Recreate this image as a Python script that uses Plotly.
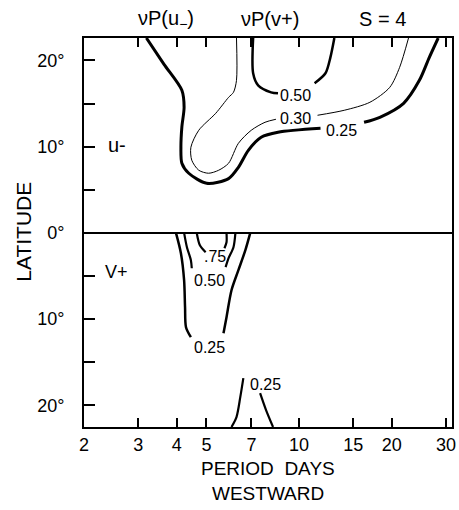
import math
import plotly.graph_objects as go

# ---- axis ticks ----
period_ticks = [2, 3, 4, 5, 7, 10, 15, 20, 30]
lat_ticks = [-20, -10, 0, 10, 20]
lat_ticktext = ["20°", "10°", "0°", "10°", "20°"]
lat_minor_ticks = [-15, -5, 5, 15]

# ---- top panel (u-) contours: period (days), latitude (deg, positive) ----
u025_period = [3.19, 3.64, 4.16, 4.23, 4.16, 4.13, 4.16, 4.38, 5.01, 5.90, 6.35, 6.84, 7.53, 8.54, 11.74,
               None, 16.26, 18.30, 21.86, 24.60, 26.50, 28.32]
u025_lat = [22.6, 19.55, 16.54, 14.57, 12.3, 9.93, 8.08, 6.92, 5.76, 6.3, 7.61, 9.58, 11.09, 11.67, 12.13,
            None, 12.83, 13.41, 15.03, 17.69, 20.36, 22.6]

u030_period = [6.26, 6.26, 6.12, 5.90, 5.36, 4.72, 4.45, 4.48, 4.72, 5.08, 5.48, 5.90, 6.35, 6.99, 7.75, 8.41,
               None, 11.48, 14.02, 16.99, 19.71, 21.22, 22.68]
u030_lat = [22.6, 17.69, 16.3, 15.72, 13.87, 11.9, 9.93, 8.43, 7.27, 6.92, 7.27, 8.08, 10.39, 11.9, 12.83, 13.18,
            None, 13.64, 14.22, 15.15, 16.88, 19.2, 22.6]

u050_period = [7.09, 7.09, 7.36, 8.11, 8.54, None, 11.23, 12.18, 12.64, 13.02]
u050_lat = [22.6, 18.51, 17.11, 16.3, 16.18, None, 17.35, 18.51, 20.36, 22.6]

# ---- bottom panel (v+) contours: latitude shown downward (negative values) ----
v075_period = [4.65, 4.76, 4.97, None, 5.81, 5.81, 5.72]
v075_lat = [0, -1.43, -2.24, None, 0, -1.08, -1.77]

v050_period = [4.23, 4.32, 4.45, 4.48, None, 6.21, 6.12, 5.90, 5.77]
v050_lat = [0, -1.66, -3.16, -4.1, None, 0, -1.66, -2.93, -3.97]

v025a_period = [3.98, 4.13, 4.23, 4.26, 4.29, 4.45, None, 6.94, 6.69, 6.35, 6.03, 5.81, 5.68]
v025a_lat = [0, -2.35, -5.48, -8.61, -10.93, -12.09, None, 0, -2.0, -4.32, -6.64, -9.77, -11.62]

v025b_period = [6.03, 6.26, 6.44, 6.59, None, 7.47, 7.81, 8.23]
v025b_lat = [-22.5, -21.35, -19.04, -16.84, None, -18.58, -20.54, -22.5]

# ---- contour labels ----
label_text = ["0.50", "0.30", "0.25", ".75", "0.50", "0.25", "0.25"]
label_period = [9.75, 9.75, 13.71, 5.32, 5.12, 5.12, 7.75]
label_lat = [15.96, 13.29, 11.9, -2.7, -5.48, -13.25, -17.53]

FONT = "Liberation Sans"

fig = go.Figure()

curves = [
    (u025_period, u025_lat, 3.0),
    (u030_period, u030_lat, 1.0),
    (u050_period, u050_lat, 2.5),
    (v075_period, v075_lat, 2.2),
    (v050_period, v050_lat, 2.2),
    (v025a_period, v025a_lat, 2.5),
    (v025b_period, v025b_lat, 2.2),
]
for px, py, w in curves:
    fig.add_trace(go.Scatter(x=px, y=py, mode="lines",
                             line=dict(color="black", width=w, shape="spline", smoothing=0.8),
                             hoverinfo="skip", showlegend=False))

for t, p, la in zip(label_text, label_period, label_lat):
    fig.add_annotation(x=math.log10(p), y=la, text=t, showarrow=False,
                       xanchor="center", yanchor="middle",
                       font=dict(family=FONT, size=16, color="black"))

# equator line
fig.add_shape(type="line", xref="paper", x0=0, x1=1, yref="y", y0=0, y1=0,
              line=dict(color="black", width=2))


def paper_text(text, xpix, ypix, size, angle=0):
    fig.add_annotation(xref="paper", x=(xpix - 84) / 372, yref="paper", y=(427 - ypix) / 389,
                       text=text, textangle=angle, showarrow=False,
                       xanchor="center", yanchor="middle",
                       font=dict(family=FONT, size=size, color="black"))


# panel labels
paper_text("u-", 117, 145, 20)
paper_text("V+", 117, 272, 18)

# header texts
paper_text("νP(u<sub>−</sub>)", 167, 19, 20)
paper_text("νP(v+)", 272, 19, 20)
paper_text("S = 4", 386, 19, 20)

# axis titles
paper_text("LATITUDE", 22, 232, 21, angle=-90)
paper_text("PERIOD  DAYS", 270, 468, 19)
paper_text("WESTWARD", 270, 493, 19)

fig.update_layout(
    width=459, height=510,
    margin=dict(l=84, r=3, t=38, b=83),
    paper_bgcolor="white", plot_bgcolor="white",
    showlegend=False,
    xaxis=dict(type="log", range=[math.log10(2), math.log10(31.4)],
               tickvals=period_ticks, ticktext=[str(v) for v in period_ticks],
               ticks="inside", ticklen=9, tickwidth=1.5, tickcolor="black",
               showline=True, linecolor="black", linewidth=2, mirror="ticks",
               showgrid=False, zeroline=False,
               tickfont=dict(family=FONT, size=18, color="black")),
    yaxis=dict(range=[-22.5, 22.6], tickvals=lat_ticks, ticktext=lat_ticktext,
               ticks="inside", ticklen=11, tickwidth=1.5, tickcolor="black",
               minor=dict(tickmode="array", tickvals=lat_minor_ticks, ticks="inside",
                          ticklen=11, tickwidth=1.5, tickcolor="black", showgrid=False),
               showline=True, linecolor="black", linewidth=2, mirror=True,
               showgrid=False, zeroline=False, ticklabelstandoff=14,
               tickfont=dict(family=FONT, size=18, color="black")),
)

fig.write_html("out.html")
